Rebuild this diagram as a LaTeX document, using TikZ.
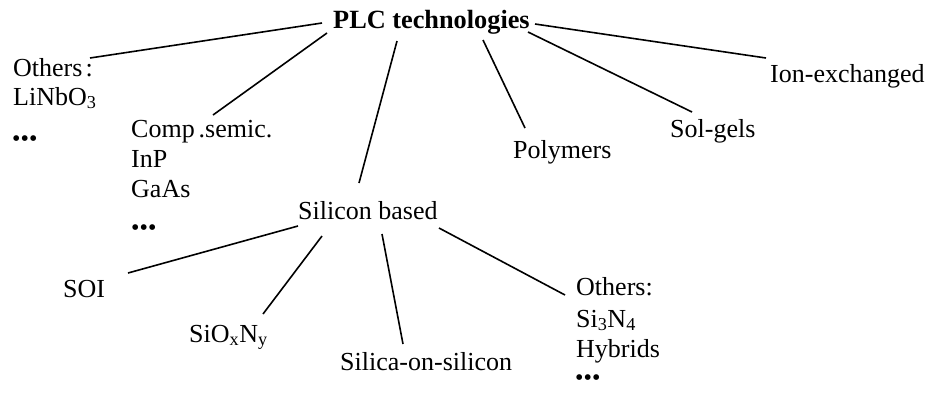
\documentclass[tikz,border=0pt]{standalone}
\usepackage{fontspec}
\setmainfont{Liberation Serif}
\usetikzlibrary{calc}
\begin{document}
\begin{tikzpicture}[x=1pt,y=-1pt,
  lbl/.style={inner sep=0pt,anchor=base west,font=\fontsize{26}{30}\selectfont},
  rootlbl/.style={inner sep=0pt,anchor=base west,font=\fontsize{26.3}{30}\selectfont\bfseries},
  dotslbl/.style={inner sep=0pt,anchor=base west,font=\fontsize{24}{28}\selectfont},
  conn/.style={line width=1.6pt}]
\useasboundingbox (0,0) rectangle (933,392);
% root
\node[rootlbl] (root) at (333,28) {PLC technologies};
% left others
\node[lbl] (othL) at (13,76) {Others\hspace{0.12em}:};
\node[lbl] (othL2) at (13,105) {LiNbO\textsubscript{3}};
\node[dotslbl] (othL3) at (12,146) {•••};
% compound semiconductors
\node[lbl] (comp) at (131,137) {Comp\hspace{0.15em}.semic.};
\node[lbl] (comp2) at (131,167) {InP};
\node[lbl] (comp3) at (131,197) {GaAs};
\node[dotslbl] (comp4) at (131,235) {•••};
% silicon based
\node[lbl] (si) at (298,219) {Silicon based};
% polymers, sol-gels, ion-exchanged
\node[lbl] (poly) at (513,158) {Polymers};
\node[lbl] (sol) at (670,137) {Sol-gels};
\node[lbl] (ion) at (770,82) {Ion-exchanged};
% silicon children
\node[lbl] (soi) at (63,297) {SOI};
\node[lbl] (sion) at (189,342) {SiO\textsubscript{x}N\textsubscript{y}};
\node[lbl] (silica) at (340,370) {Silica-on-silicon};
\node[lbl] (othR) at (576,295) {Others:};
\node[lbl] (othR2) at (576,327) {Si\textsubscript{3}N\textsubscript{4}};
\node[lbl] (othR3) at (576,357) {Hybrids};
\node[dotslbl] (othR4) at (575,385) {•••};
% connectors from root
\draw[conn] ($(root.base west)+(-11,-5)$) -- ($(othL.base west)+(77,-18)$);
\draw[conn] ($(root.base west)+(-6,5)$) -- ($(comp.base west)+(82,-22)$);
\draw[conn] ($(root.base west)+(64,13)$) -- ($(si.base west)+(61,-36)$);
\draw[conn] ($(root.base west)+(150,12)$) -- ($(poly.base west)+(12,-30)$);
\draw[conn] ($(root.base west)+(195,4)$) -- ($(sol.base west)+(22,-25)$);
\draw[conn] ($(root.base west)+(202,-4)$) -- ($(ion.base west)+(-4,-24)$);
% connectors from silicon based
\draw[conn] ($(si.base west)+(0,7)$) -- ($(soi.base west)+(65,-24)$);
\draw[conn] ($(si.base west)+(24,17)$) -- ($(sion.base west)+(74,-28)$);
\draw[conn] ($(si.base west)+(84,15)$) -- ($(silica.base west)+(63,-26)$);
\draw[conn] ($(si.base west)+(141,9)$) -- ($(othR.base west)+(-11,0)$);
\end{tikzpicture}
\end{document}
